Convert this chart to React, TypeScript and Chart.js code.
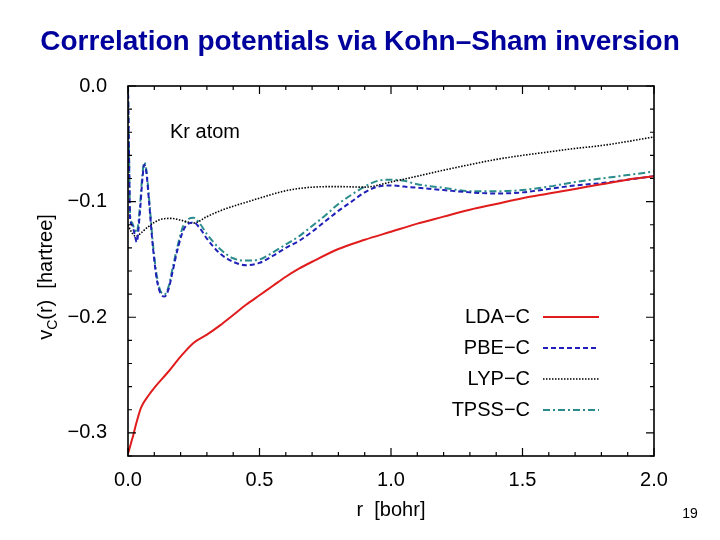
import React, { useEffect, useRef } from "react";
import { Chart, registerables } from "chart.js";

Chart.register(...registerables);

// r grid used for the oscillating PBE / TPSS curves (bohr)
const rOsc = [
  0, 0.004, 0.008, 0.015, 0.025, 0.033, 0.045, 0.055, 0.062, 0.07, 0.08, 0.095,
  0.11, 0.125, 0.14, 0.155, 0.17, 0.19, 0.21, 0.23, 0.25, 0.27, 0.3, 0.35, 0.4,
  0.45, 0.5, 0.55, 0.6, 0.65, 0.7, 0.75, 0.8, 0.85, 0.9, 0.95, 1.0, 1.05, 1.1,
  1.2, 1.3, 1.4, 1.5, 1.6, 1.7, 1.8, 1.9, 2.0,
];
const pbeC = [
  0, -0.06, -0.115, -0.12, -0.128, -0.135, -0.11, -0.08, -0.068, -0.075, -0.1,
  -0.14, -0.168, -0.18, -0.182, -0.175, -0.16, -0.14, -0.125, -0.119, -0.118,
  -0.122, -0.132, -0.145, -0.152, -0.155, -0.153, -0.147, -0.14, -0.134,
  -0.126, -0.117, -0.108, -0.1, -0.092, -0.087, -0.086, -0.087, -0.088, -0.09,
  -0.092, -0.093, -0.092, -0.089, -0.086, -0.084, -0.081, -0.078,
];
const tpssC = [
  0, -0.06, -0.112, -0.118, -0.124, -0.127, -0.105, -0.076, -0.066, -0.073,
  -0.097, -0.137, -0.165, -0.178, -0.18, -0.173, -0.157, -0.137, -0.121,
  -0.115, -0.114, -0.118, -0.128, -0.141, -0.149, -0.151, -0.15, -0.144,
  -0.137, -0.13, -0.121, -0.112, -0.102, -0.094, -0.087, -0.082, -0.081,
  -0.082, -0.085, -0.088, -0.091, -0.091, -0.09, -0.087, -0.083, -0.08,
  -0.077, -0.074,
];

const rLda = [
  0, 0.01, 0.02, 0.03, 0.05, 0.08, 0.1, 0.15, 0.2, 0.25, 0.3, 0.35, 0.4, 0.45,
  0.5, 0.55, 0.6, 0.65, 0.7, 0.8, 0.9, 1.0, 1.1, 1.2, 1.3, 1.4, 1.5, 1.6, 1.7,
  1.8, 1.9, 2.0,
];
const ldaC = [
  -0.318, -0.31, -0.302, -0.293, -0.278, -0.267, -0.261, -0.248, -0.234,
  -0.222, -0.215, -0.207, -0.198, -0.189, -0.181, -0.173, -0.165, -0.158,
  -0.152, -0.141, -0.133, -0.126, -0.119, -0.113, -0.107, -0.102, -0.097,
  -0.093, -0.089, -0.085, -0.081, -0.078,
];

const rLyp = [
  0, 0.01, 0.03, 0.05, 0.07, 0.1, 0.13, 0.166, 0.2, 0.25, 0.3, 0.35, 0.4, 0.45,
  0.5, 0.6, 0.7, 0.8, 0.9, 1.0, 1.1, 1.2, 1.3, 1.4, 1.5, 1.6, 1.7, 1.8, 1.9,
  2.0,
];
const lypC = [
  -0.12, -0.125, -0.13, -0.127, -0.123, -0.118, -0.115, -0.1145, -0.116,
  -0.1185, -0.113, -0.108, -0.104, -0.1005, -0.097, -0.0906, -0.0875, -0.087,
  -0.0875, -0.083, -0.078, -0.0728, -0.068, -0.0635, -0.06, -0.057, -0.054,
  -0.0515, -0.048, -0.044,
];

const seriesNames = ["LDA\u2212C", "PBE\u2212C", "LYP\u2212C", "TPSS\u2212C"];
const xTicks = [0, 0.5, 1.0, 1.5, 2.0];
const yTicks = [0, -0.1, -0.2, -0.3];
const xMinorStep = 0.1;
const yMinorStep = 0.02;

const FONT = "'Liberation Sans', Arial, Helvetica, sans-serif";

const toPoints = (xs: number[], ys: number[]) =>
  xs.map((x, i) => ({ x, y: ys[i] }));

const fmt = (v: number) =>
  Math.abs(v) < 1e-9 ? "0.0" : (v < 0 ? "\u2212" : "") + Math.abs(v).toFixed(1);

// draws frame, inward ticks, annotations, the legend and titles
const decorPlugin = {
  id: "decor",
  afterDraw(chart: any) {
    const { ctx, chartArea } = chart;
    const { left, right, top, bottom } = chartArea;
    const xs = chart.scales.x;
    const ys = chart.scales.y;
    ctx.save();

    // ticks on all four sides
    ctx.strokeStyle = "#000";
    ctx.lineWidth = 1.2;
    ctx.setLineDash([]);
    const nx = Math.round((xs.max - xs.min) / xMinorStep);
    for (let k = 0; k <= nx; k++) {
      const v = xs.min + k * xMinorStep;
      const px = xs.getPixelForValue(v);
      const major = xTicks.some((t) => Math.abs(t - v) < 1e-6);
      const len = major ? 8 : 4;
      ctx.beginPath();
      ctx.moveTo(px, bottom);
      ctx.lineTo(px, bottom - len);
      ctx.moveTo(px, top);
      ctx.lineTo(px, top + len);
      ctx.stroke();
    }
    const ny = Math.round((ys.max - ys.min) / yMinorStep);
    for (let k = 0; k <= ny; k++) {
      const v = ys.max - k * yMinorStep;
      const py = ys.getPixelForValue(v);
      const major = yTicks.some((t) => Math.abs(t - v) < 1e-6);
      const len = major ? 8 : 4;
      ctx.beginPath();
      ctx.moveTo(left, py);
      ctx.lineTo(left + len, py);
      ctx.moveTo(right, py);
      ctx.lineTo(right - len, py);
      ctx.stroke();
    }

    // frame
    ctx.lineWidth = 1.6;
    ctx.strokeRect(left, top, right - left, bottom - top);

    ctx.fillStyle = "#000";
    ctx.font = `20px ${FONT}`;
    ctx.textBaseline = "alphabetic";

    // annotation
    ctx.textAlign = "left";
    ctx.fillText("Kr atom", 170, 138);

    // legend (text left of sample)
    chart.data.datasets.forEach((ds: any, i: number) => {
      const rowY = 317 + i * 31;
      ctx.textAlign = "right";
      ctx.textBaseline = "middle";
      ctx.fillStyle = "#000";
      ctx.fillText(ds.label, 530, rowY);
      ctx.beginPath();
      ctx.strokeStyle = ds.borderColor;
      ctx.lineWidth = ds.borderWidth;
      ctx.setLineDash(ds.borderDash || []);
      ctx.moveTo(543, rowY);
      ctx.lineTo(599, rowY);
      ctx.stroke();
    });
    ctx.setLineDash([]);

    // y-axis title with subscript
    ctx.save();
    ctx.translate(52, 277);
    ctx.rotate(-Math.PI / 2);
    ctx.textBaseline = "alphabetic";
    ctx.textAlign = "left";
    ctx.fillStyle = "#000";
    const big = `20px ${FONT}`;
    const small = `14px ${FONT}`;
    ctx.font = big;
    const wV = ctx.measureText("v").width;
    const wRest = ctx.measureText("(r)  [hartree]").width;
    ctx.font = small;
    const wC = ctx.measureText("C").width;
    let cx = -(wV + wC + wRest) / 2;
    ctx.font = big;
    ctx.fillText("v", cx, 0);
    cx += wV;
    ctx.font = small;
    ctx.fillText("C", cx, 5);
    cx += wC;
    ctx.font = big;
    ctx.fillText("(r)  [hartree]", cx, 0);
    ctx.restore();

    // x-axis title
    ctx.font = `20px ${FONT}`;
    ctx.textAlign = "center";
    ctx.textBaseline = "middle";
    ctx.fillStyle = "#000";
    ctx.fillText("r  [bohr]", (left + right) / 2, 510);

    // slide title and page number
    ctx.font = `bold 28px ${FONT}`;
    ctx.fillStyle = "#00009c";
    ctx.fillText("Correlation potentials via Kohn\u2013Sham inversion", 360, 42);
    ctx.font = `14px ${FONT}`;
    ctx.fillStyle = "#000";
    ctx.fillText("19", 690, 514);

    ctx.restore();
  },
};

const App: React.FC = () => {
  const canvasRef = useRef<HTMLCanvasElement | null>(null);
  const chartRef = useRef<Chart | null>(null);

  useEffect(() => {
    document.body.style.margin = "0";
    if (chartRef.current) chartRef.current.destroy();
    if (!canvasRef.current) return;

    const common = {
      pointRadius: 0,
      fill: false,
      cubicInterpolationMode: "monotone" as const,
    };

    chartRef.current = new Chart(canvasRef.current, {
      type: "line",
      data: {
        datasets: [
          {
            ...common,
            label: seriesNames[0],
            data: toPoints(rLda, ldaC),
            borderColor: "#e01c1c",
            borderWidth: 2,
            borderDash: [],
          },
          {
            ...common,
            label: seriesNames[1],
            data: toPoints(rOsc, pbeC),
            borderColor: "#2020b8",
            borderWidth: 2,
            borderDash: [5, 3],
          },
          {
            ...common,
            label: seriesNames[2],
            data: toPoints(rLyp, lypC),
            borderColor: "#000000",
            borderWidth: 1.6,
            borderDash: [1.5, 1.5],
          },
          {
            ...common,
            label: seriesNames[3],
            data: toPoints(rOsc, tpssC),
            borderColor: "#2a8c8c",
            borderWidth: 2,
            borderDash: [7, 3, 2, 3],
          },
        ],
      },
      options: {
        animation: false,
        responsive: false,
        layout: { padding: { top: 86, right: 66, left: 0, bottom: 0 } },
        plugins: {
          legend: { display: false },
          tooltip: { enabled: false },
          title: { display: false },
        },
        scales: {
          x: {
            type: "linear",
            min: 0,
            max: 2,
            grid: { display: false },
            border: { display: false },
            ticks: {
              color: "#000",
              font: { family: FONT, size: 20 },
              padding: 4,
              callback: (v: any) => fmt(Number(v)),
            },
            afterBuildTicks: (scale: any) => {
              scale.ticks = xTicks.map((v) => ({ value: v }));
            },
            afterFit: (scale: any) => {
              scale.height = 84;
            },
          },
          y: {
            type: "linear",
            min: -0.32,
            max: 0,
            grid: { display: false },
            border: { display: false },
            ticks: {
              color: "#000",
              font: { family: FONT, size: 20 },
              padding: 13,
              callback: (v: any) => fmt(Number(v)),
            },
            afterBuildTicks: (scale: any) => {
              scale.ticks = yTicks.map((v) => ({ value: v }));
            },
            afterFit: (scale: any) => {
              scale.width = 128;
            },
          },
        },
      },
      plugins: [decorPlugin],
    });

    return () => {
      if (chartRef.current) {
        chartRef.current.destroy();
        chartRef.current = null;
      }
    };
  }, []);

  return (
    <div style={{ width: 720, height: 540, background: "#fff" }}>
      <canvas ref={canvasRef} width={720} height={540} />
    </div>
  );
};

export default App;
